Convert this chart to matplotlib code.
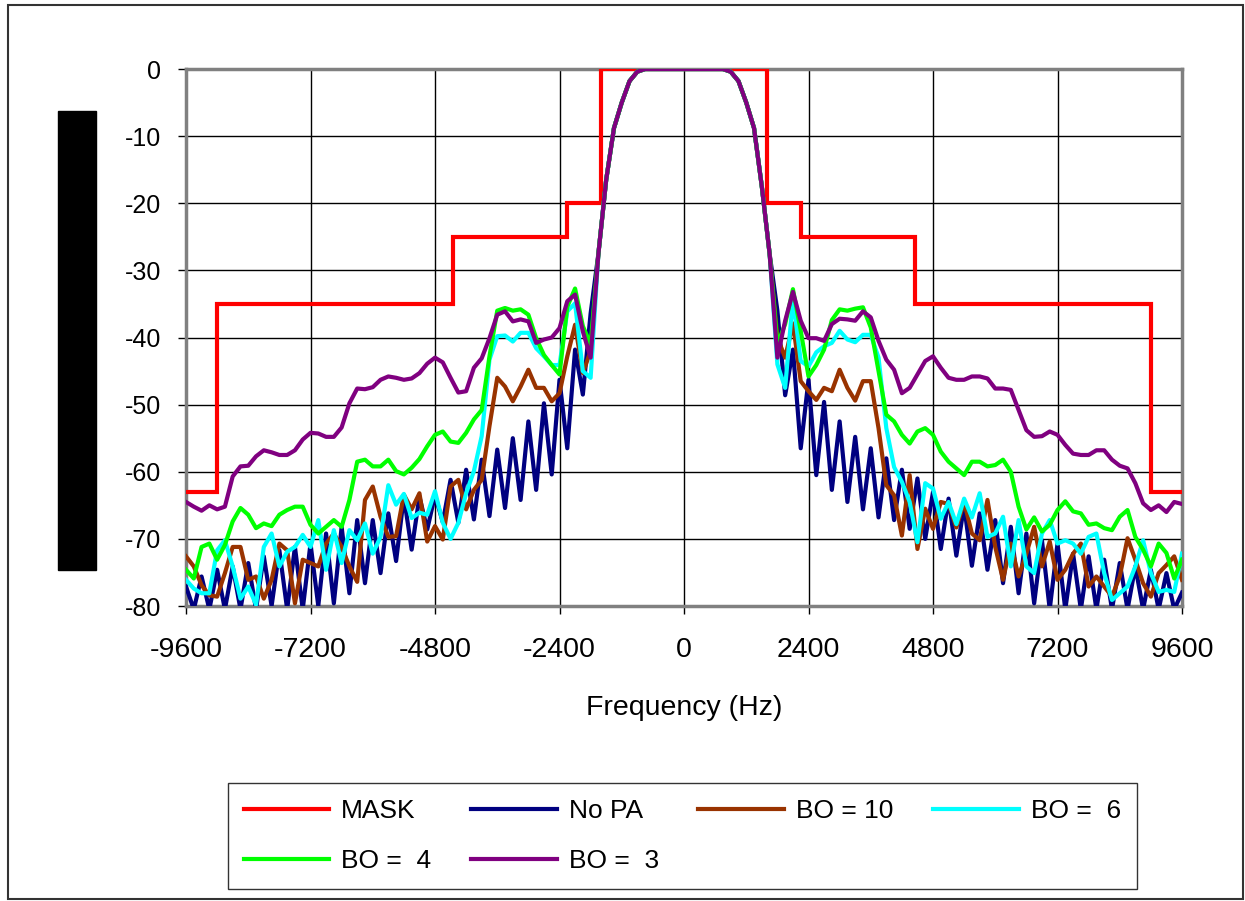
import numpy as np
import matplotlib
matplotlib.use("Agg")
import matplotlib.pyplot as plt
from matplotlib.patches import Rectangle

plt.rcParams['font.family'] = ['Liberation Sans', 'DejaVu Sans']
plt.rcParams['axes.unicode_minus'] = False

# frequency grid (Hz), 150 Hz step
freq = np.arange(-9600, 9601, 150)

# main lobe, shared by all curves (-1650 .. 1650 Hz)
main_lobe = [-27.5, -16.5, -8.8, -5.0, -1.8, -0.4, 0, 0, 0, 0, 0, 0,
             0, 0, 0, 0, 0, -0.4, -1.8, -5.0, -8.8, -17.5, -27.5]

# skirts: negative side -9600..-1800, positive side 1800..9600
nopa_neg = [-77.1, -80.5, -75.6, -80.5, -74.6, -80.5, -74.1, -80.5, -73.6,
            -80.5, -72.6, -80.0, -71.7, -80.5, -71.2, -80.5, -70.7, -80.0,
            -69.2, -79.6, -68.2, -78.1, -67.2, -76.6, -67.2, -75.1, -66.2,
            -73.3, -63.7, -71.6, -63.7, -68.6, -63.5, -67.5, -61.2, -67.6,
            -59.7, -67.1, -58.2, -66.6, -56.7, -65.4, -55.0, -64.2, -52.5,
            -62.7, -49.8, -60.4, -46.3, -56.5, -41.8, -48.5, -36.4]
nopa_pos = [-36.0, -48.6, -41.8, -56.5, -46.3, -60.5, -49.6, -62.7, -52.5,
            -64.5, -54.8, -65.6, -56.5, -66.8, -58.0, -67.2, -59.7, -68.5,
            -61.0, -70.0, -63.0, -71.5, -64.0, -72.5, -65.0, -74.0, -66.2,
            -74.6, -67.2, -76.6, -68.2, -78.1, -69.2, -79.6, -70.2, -80.5,
            -70.7, -80.5, -72.2, -80.5, -72.6, -80.5, -73.1, -80.5, -73.6,
            -80.5, -74.1, -80.5, -74.6, -80.5, -75.1, -80.5, -78.0]

bo10_neg = [-72.6, -74.1, -76.9, -78.4, -78.6, -75.1, -71.2, -71.2, -76.1,
            -75.6, -78.9, -76.1, -70.7, -71.7, -79.6, -73.1, -73.6, -74.1,
            -70.7, -69.2, -71.2, -74.1, -76.4, -64.2, -62.2, -66.7, -69.7,
            -69.6, -63.4, -65.6, -63.2, -70.4, -68.1, -70.1, -62.2, -61.2,
            -65.6, -62.7, -61.2, -53.2, -46.0, -47.3, -49.5, -47.3, -44.8,
            -47.5, -47.5, -49.5, -48.3, -42.8, -38.1, -45.3, -42.0]
bo10_pos = [-40.0, -43.0, -37.9, -46.5, -48.0, -49.3, -47.5, -48.0, -44.8,
            -47.5, -49.4, -46.5, -46.5, -53.5, -62.0, -63.5, -69.5, -60.5,
            -71.5, -65.5, -68.5, -64.5, -64.8, -68.3, -64.5, -69.2, -70.2,
            -64.2, -71.2, -76.1, -70.7, -75.6, -72.2, -68.2, -74.1, -70.4,
            -76.1, -74.6, -72.2, -70.7, -77.1, -75.6, -77.1, -78.6, -75.6,
            -69.9, -73.1, -76.6, -78.6, -75.1, -73.9, -72.6, -76.1]

bo6_neg = [-76.1, -77.4, -78.1, -78.1, -71.7, -70.2, -74.1, -78.9, -77.1,
           -79.8, -71.2, -69.2, -74.1, -71.9, -71.2, -69.4, -71.2, -67.2,
           -74.6, -68.7, -73.6, -68.7, -70.2, -67.7, -72.2, -69.7, -62.0,
           -64.9, -63.3, -66.9, -66.1, -66.4, -62.9, -67.6, -70.0, -67.6,
           -63.2, -59.9, -54.7, -43.3, -39.8, -39.7, -40.6, -39.3, -39.3,
           -41.6, -42.8, -44.1, -44.1, -36.1, -34.9, -45.0, -46.0]
bo6_pos = [-44.0, -47.5, -34.2, -43.5, -44.3, -42.2, -41.3, -40.8, -39.0,
           -40.3, -40.7, -39.6, -39.6, -43.0, -53.5, -59.3, -61.5, -64.5,
           -70.5, -61.7, -62.5, -67.0, -64.5, -67.8, -64.0, -66.8, -63.2,
           -69.7, -69.2, -66.7, -74.1, -67.2, -74.1, -75.1, -69.2, -67.2,
           -70.7, -70.2, -70.7, -72.2, -69.7, -69.2, -75.1, -79.1, -78.1,
           -77.1, -74.1, -70.2, -75.1, -77.9, -77.6, -77.9, -72.2]

bo4_neg = [-74.6, -75.9, -71.2, -70.7, -73.1, -70.9, -67.4, -65.4, -66.4,
           -68.4, -67.7, -68.1, -66.4, -65.7, -65.2, -65.2, -67.9, -69.2,
           -68.2, -67.2, -68.2, -64.2, -58.5, -58.2, -59.2, -59.2, -58.2,
           -59.9, -60.4, -59.4, -58.1, -56.2, -54.5, -54.0, -55.5, -55.7,
           -54.2, -52.2, -50.8, -42.8, -36.0, -35.6, -36.0, -35.8, -36.6,
           -40.1, -42.6, -44.1, -45.5, -35.4, -32.7, -38.3, -41.0]
bo4_pos = [-41.0, -38.0, -32.8, -39.0, -45.8, -44.1, -41.8, -37.4, -35.8,
           -36.0, -35.7, -35.5, -38.5, -45.0, -51.5, -52.5, -54.5, -55.8,
           -54.0, -53.5, -54.5, -57.0, -58.5, -59.5, -60.5, -58.5, -58.5,
           -59.2, -59.0, -58.2, -60.0, -65.2, -68.6, -66.8, -68.9, -67.9,
           -65.7, -64.4, -65.9, -66.2, -67.9, -67.7, -68.4, -68.7, -66.7,
           -65.7, -69.7, -71.6, -74.1, -70.7, -72.1, -75.9, -73.1]

bo3_neg = [-64.5, -65.2, -65.8, -65.0, -65.6, -65.2, -60.7, -59.2, -59.1,
           -57.7, -56.8, -57.1, -57.5, -57.5, -56.8, -55.2, -54.2, -54.3,
           -54.8, -54.8, -53.4, -49.8, -47.6, -47.7, -47.4, -46.3, -45.8,
           -46.0, -46.3, -46.1, -45.3, -43.9, -43.0, -43.7, -46.0, -48.2,
           -48.0, -44.5, -43.1, -40.1, -36.6, -36.1, -37.6, -37.3, -37.6,
           -40.8, -40.3, -40.0, -38.6, -34.6, -33.6, -39.1, -43.0]
bo3_pos = [-43.0, -37.5, -33.2, -37.5, -40.1, -40.1, -40.5, -38.0, -37.2,
           -37.3, -37.5, -36.1, -37.0, -40.5, -43.3, -44.8, -48.3, -47.5,
           -45.5, -43.5, -42.8, -44.5, -46.0, -46.3, -46.3, -45.8, -45.8,
           -46.1, -47.6, -47.6, -47.8, -50.8, -53.8, -54.8, -54.7, -54.0,
           -54.5, -56.0, -57.3, -57.5, -57.5, -56.8, -56.8, -58.2, -59.1,
           -59.5, -61.7, -64.7, -65.7, -65.0, -66.0, -64.5, -64.8]

# spectral mask
mask_edges = [-9600, -9000, -4450, -2250, -1600, 1600, 2250, 4450, 9000, 9600]
mask_levels = [-63, -35, -25, -20, 0, -20, -25, -35, -63]

series = [
    ("No PA", nopa_neg, nopa_pos, "#000080"),
    ("BO = 10", bo10_neg, bo10_pos, "#993300"),
    ("BO =  6", bo6_neg, bo6_pos, "#00FFFF"),
    ("BO =  4", bo4_neg, bo4_pos, "#00FF00"),
    ("BO =  3", bo3_neg, bo3_pos, "#800080"),
]

fig = plt.figure(figsize=(12.45, 9.01), dpi=100)
ax = fig.add_axes([0.1494, 0.3274, 0.8, 0.596])

handles = []
h = ax.stairs(mask_levels, mask_edges, baseline=None, color="#FF0000",
              linewidth=3.0, label="MASK", zorder=3)
handles.append(h)
for name, neg, pos, col in series:
    y = np.concatenate([neg, main_lobe, pos])
    line, = ax.plot(freq, y, color=col, linewidth=3.0, label=name, zorder=3)
    handles.append(line)

ax.set_xlim(-9600, 9600)
ax.set_ylim(-80, 0)
ax.set_xticks(np.arange(-9600, 9601, 2400))
ax.set_yticks(np.arange(-80, 1, 10))
ax.grid(True, color="black", linewidth=1.0)
ax.set_axisbelow(True)
for s in ax.spines.values():
    s.set_color("#808080")
    s.set_linewidth(2.5)
ax.tick_params(axis="y", direction="out", length=6, width=1, color="black",
               labelsize=18, pad=12)
ax.tick_params(axis="x", direction="out", length=6, width=1, color="black",
               labelsize=20.5, pad=16)
ax.set_xlabel("Frequency (Hz)", fontsize=20.5, labelpad=23)

# redacted axis label block and outer frame
fig.add_artist(Rectangle((0.0466, 0.3674), 0.0305, 0.5094,
                         transform=fig.transFigure, color="black"))
fig.add_artist(Rectangle((0.0064, 0.002), 0.992, 0.9925, transform=fig.transFigure,
                         fill=False, edgecolor="#333333", linewidth=1.5))

# legend filled row by row (matplotlib fills columns first)
order = [0, 4, 1, 5, 2, 3]
leg = fig.legend([handles[i] for i in order],
                 [handles[i].get_label() for i in order],
                 loc="center", bbox_to_anchor=(0.548, 0.0721), ncol=4,
                 fontsize=19, frameon=True, fancybox=False, edgecolor="black",
                 handlelength=3.25, handletextpad=0.45, columnspacing=1.5,
                 labelspacing=1.0, borderpad=0.6)
leg.get_frame().set_linewidth(1.0)

fig.savefig("out.png", dpi=100)
